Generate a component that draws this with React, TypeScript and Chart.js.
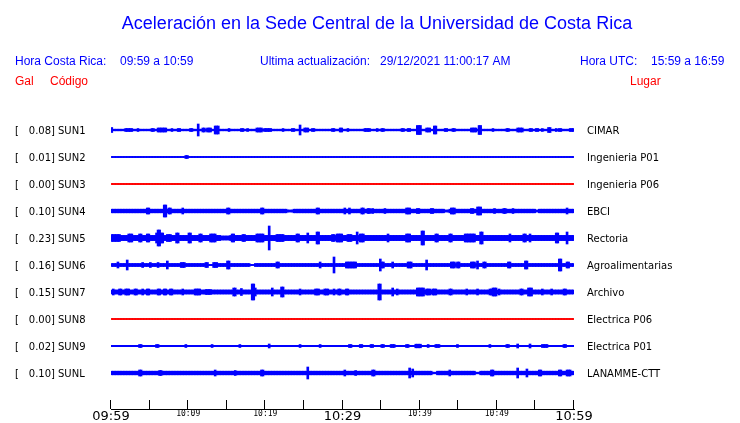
import { useEffect, useRef } from 'react';
import { Chart, registerables } from 'chart.js';

Chart.register(...registerables);

// ---------- text ----------
const TITLE = 'Aceleración en la Sede Central de la Universidad de Costa Rica';
const LOCAL_LABEL = 'Hora Costa Rica:';
const LOCAL_RANGE = '09:59 a 10:59';
const UPDATED_LABEL = 'Ultima actualización:';
const UPDATED_VALUE = '29/12/2021 11:00:17 AM';
const UTC_LABEL = 'Hora UTC:';
const UTC_RANGE = '15:59 a 16:59';
const COL_GAL = 'Gal';
const COL_CODE = 'Código';
const COL_PLACE = 'Lugar';

// ---------- stations ----------
const stationCodes = ['SUN1', 'SUN2', 'SUN3', 'SUN4', 'SUN5', 'SUN6', 'SUN7', 'SUN8', 'SUN9', 'SUNL'];
const stationGal = ['0.08', '0.01', '0.00', '0.10', '0.23', '0.16', '0.15', '0.00', '0.02', '0.10'];
const stationPlaces = ['CIMAR', 'Ingenieria P01', 'Ingenieria P06', 'EBCI', 'Rectoria', 'Agroalimentarias', 'Archivo', 'Electrica P06', 'Electrica P01', 'LANAMME-CTT'];

// ---------- time axis (minutes after 09:59) ----------
const tickMinutes = [0, 5, 10, 15, 20, 25, 30, 35, 40, 45, 50, 55, 60];
const tickLabels = ['09:59', '', '10:09', '', '10:19', '', '10:29', '', '10:39', '', '10:49', '', '10:59'];
const majorLabels = ['09:59', '10:29', '10:59'];

// ---------- trace envelopes: background half-amplitude + bursts [minute, half-amplitude, duration] ----------
const baseAmplitude = [0.8, 0.6, 0.6, 1.8, 2.6, 1.5, 2.0, 0.6, 0.7, 1.8];

const sun1Events = [[0.1, 2.5], [2.3, 1.5, 0.8], [3.5, 1.5], [5.4, 1.5], [6.6, 2, 1.0], [7.9, 1.5], [8.8, 1.5], [10.4, 1.5, 0.4], [11.3, 6], [12.0, 2, 0.5], [12.7, 2, 0.6], [13.7, 4, 0.6], [15.3, 1.5], [17.0, 1.5], [17.7, 1.5], [19.2, 2, 0.6], [20.3, 1.5, 0.8], [22.3, 1.5], [23.6, 1.5], [24.5, 5], [25.3, 2, 0.4], [26.2, 1.5], [28.8, 1.5], [29.8, 2, 0.5], [30.7, 1.5], [33.2, 1.5, 0.6], [34.5, 1.5], [35.2, 1.5], [37.8, 1.5], [38.6, 1.5, 0.4], [39.9, 4.5, 0.6], [41.1, 2, 0.6], [42.0, 4], [43.4, 1.5], [44.4, 1.5, 0.5], [47.0, 2, 0.6], [47.8, 4.5], [49.5, 1.5], [51.4, 1.5], [53.0, 2, 0.8], [54.4, 1.5], [55.2, 1.5], [55.9, 1.5], [56.8, 2.5, 0.5], [57.7, 1.5], [58.2, 1.5], [59.5, 1.5], [59.8, 1.5]];
const sun2Events = [[9.8, 1.5]];
const sun3Events: number[][] = [];
const sun4Events = [[4.8, 3], [7.0, 6], [7.6, 3], [9.3, 3], [15.2, 3], [19.6, 3], [23.2, 1, 0.6], [26.8, 3], [30.3, 3], [30.9, 3], [32.6, 3], [33.4, 2.5], [33.9, 2.5], [35.5, 2.5], [38.5, 3, 0.5], [39.8, 2.5], [41.6, 2.5], [43.5, 1, 0.4], [44.3, 3, 0.6], [46.8, 2.5, 0.3], [47.5, 4], [47.8, 4], [49.7, 2.5], [51.0, 2.5], [52.1, 2.5], [55.2, 1, 0.4], [59.1, 3]];
const sun5Events = [[0.2, 3.5, 0.6], [0.9, 3.5, 0.5], [2.5, 4, 0.6], [3.8, 4, 0.4], [4.8, 4, 0.4], [6.0, 5, 0.4], [6.2, 8, 0.3], [6.6, 5, 0.4], [7.5, 3.5, 0.6], [8.6, 5, 0.3], [10.2, 5, 0.4], [11.6, 4, 0.4], [13.2, 4, 0.8], [14.8, 2, 1.2], [15.8, 4], [17.2, 3.5, 0.4], [19.3, 4, 0.8], [20.5, 12], [21.9, 3.5, 0.8], [24.2, 4], [25.5, 5], [26.8, 6, 0.3], [28.8, 3.5, 0.4], [29.6, 4, 0.6], [30.9, 3.5, 0.6], [31.9, 6, 0.3], [32.5, 4, 0.4], [35.9, 4], [38.5, 4, 0.4], [40.4, 7], [42.2, 4, 0.4], [44.0, 4, 0.4], [46.5, 4, 1.2], [48.0, 6, 0.3], [51.7, 4], [53.6, 4], [54.3, 4], [57.8, 5], [59.1, 6, 0.3]];
const sun6Events = [[0.9, 3], [2.1, 5], [4.1, 2.5], [5.1, 2.5], [6.1, 2.5], [7.3, 4], [9.3, 2.5, 0.6], [12.4, 2.5], [12.9, 0.6, 0.4], [13.5, 2.5, 0.4], [15.2, 4], [18.3, 0.6, 0.7], [21.6, 3], [27.1, 3], [28.9, 8], [30.8, 3, 0.6], [31.5, 3, 0.4], [34.9, 6], [35.2, 3], [36.5, 3], [38.7, 3, 0.5], [40.9, 5], [44.3, 3, 0.4], [45.0, 3], [46.9, 3, 0.5], [47.5, 4], [48.4, 3, 0.5], [51.6, 3], [53.8, 4, 0.3], [58.2, 6], [59.2, 3, 0.4]];
const sun7Events = [[0.3, 3], [1.2, 3, 0.4], [2.1, 3, 0.5], [3.2, 3], [4.1, 3], [4.8, 3], [6.2, 3, 0.5], [7.0, 3], [7.8, 3, 0.4], [9.3, 3], [11.2, 3, 0.6], [12.6, 2.5, 0.6], [16.0, 4, 0.4], [16.9, 3.5], [18.4, 8], [18.6, 4, 0.3], [20.9, 4], [22.2, 5], [24.5, 3], [26.7, 3, 0.4], [27.9, 3, 0.4], [28.9, 3], [29.6, 3, 0.4], [30.6, 3, 0.4], [34.8, 8], [36.5, 4], [37.1, 3], [39.9, 4, 0.4], [40.4, 4, 0.4], [41.1, 3, 0.4], [41.9, 3, 0.4], [44.0, 3, 0.4], [46.1, 3], [47.5, 3, 0.3], [49.2, 3, 0.4], [49.7, 4, 0.4], [50.3, 3], [53.2, 3], [54.3, 4, 0.4], [55.9, 3], [57.1, 3], [58.8, 3, 0.5]];
const sun8Events: number[][] = [];
const sun9Events = [[3.8, 1.5], [6.0, 1.5], [9.7, 1.5], [13.1, 1.5], [16.7, 1.5], [20.5, 2], [24.5, 1.5], [27.1, 1.5], [31.0, 1.5], [32.4, 1.5], [33.8, 1.5], [35.2, 1.5], [36.5, 1.5, 0.5], [38.4, 1.5, 0.4], [39.8, 1.8, 0.6], [41.1, 1.5], [42.3, 1.5, 0.6], [44.9, 1.5], [49.1, 1.5], [51.4, 1.5], [52.7, 2], [54.3, 2], [56.2, 1.5, 0.6], [58.8, 1.5]];
const sunLEvents = [[3.8, 3], [6.4, 2.5], [13.5, 3], [16.1, 2.5], [19.6, 3], [25.5, 6], [30.3, 3], [31.7, 2.5], [34.0, 3], [38.7, 5, 0.3], [39.1, 4], [41.9, 0.8, 0.4], [43.9, 3], [47.5, 0.8, 0.4], [49.4, 3], [52.7, 5], [53.9, 4], [55.6, 3], [58.2, 3, 0.4], [59.3, 3, 0.6]];

const stationEvents = [sun1Events, sun2Events, sun3Events, sun4Events, sun5Events, sun6Events, sun7Events, sun8Events, sun9Events, sunLEvents];

// ---------- layout constants (not data) ----------
const ROW = 27;
const BIN = 0.2;
const WINDOW = 60;
const BLUE = '#0000ff';
const RED = '#ff0000';

function envelope(base: number, events: number[][]) {
  const pts: { t: number; amp: number }[] = [];
  const n = Math.round(WINDOW / BIN);
  for (let k = 0; k < n; k++) {
    const t = (k + 0.5) * BIN;
    let amp = -1;
    for (const ev of events) {
      const m = ev[0];
      const a = ev[1];
      const w = ev.length > 2 ? ev[2] : 0.2;
      if (Math.abs(t - m) <= Math.max(w / 2, BIN / 2) + 1e-9) amp = Math.max(amp, a);
    }
    pts.push({ t, amp: amp < 0 ? base : amp });
  }
  return pts;
}

const textPlugin = {
  id: 'seismoText',
  afterDraw(chart: any) {
    const { ctx, chartArea, scales } = chart;
    ctx.save();
    // inward tick marks
    ctx.strokeStyle = '#000';
    ctx.lineWidth = 1;
    ctx.beginPath();
    for (const v of tickMinutes) {
      const x = Math.round(scales.x.getPixelForValue(v)) - 0.5;
      ctx.moveTo(x, chartArea.bottom - 9);
      ctx.lineTo(x, chartArea.bottom);
    }
    ctx.stroke();

    ctx.textBaseline = 'alphabetic';
    // title
    ctx.fillStyle = BLUE;
    ctx.font = '18px "Liberation Sans", Arial, sans-serif';
    ctx.textAlign = 'center';
    ctx.fillText(TITLE, 377, 29);

    ctx.textAlign = 'left';
    ctx.font = '12px "Liberation Sans", Arial, sans-serif';
    ctx.fillText(LOCAL_LABEL, 15, 65);
    ctx.fillText(LOCAL_RANGE, 120, 65);
    ctx.fillText(UPDATED_LABEL, 260, 65);
    ctx.fillText(UPDATED_VALUE, 380, 65);
    ctx.fillText(UTC_LABEL, 580, 65);
    ctx.fillText(UTC_RANGE, 651, 65);

    ctx.fillStyle = RED;
    ctx.fillText(COL_GAL, 15, 85);
    ctx.fillText(COL_CODE, 50, 85);
    ctx.fillText(COL_PLACE, 630, 85);

    // station labels
    ctx.fillStyle = '#000';
    ctx.font = '10px "DejaVu Sans", sans-serif';
    stationCodes.forEach((code, i) => {
      const y = scales.y.getPixelForValue(i * ROW) + 4;
      ctx.textAlign = 'left';
      ctx.fillText('[', 15, y);
      ctx.textAlign = 'right';
      ctx.fillText(stationGal[i] + ']', 55, y);
      ctx.textAlign = 'left';
      ctx.fillText(code, 58, y);
      ctx.fillText(stationPlaces[i], 587, y);
    });
    ctx.restore();
  },
};

export default function App() {
  const ref = useRef<HTMLCanvasElement | null>(null);
  useEffect(() => {
    if (!ref.current) return;
    const datasets = stationCodes.map((code, i) => {
      const env = envelope(baseAmplitude[i], stationEvents[i]);
      const color = parseFloat(stationGal[i]) === 0 ? RED : BLUE;
      return {
        label: code,
        data: env.map((p) => ({ x: p.t, y: [i * ROW - p.amp, i * ROW + p.amp] })),
        backgroundColor: color,
        borderWidth: 0,
        barThickness: 2,
        grouped: false,
      };
    });
    const chart = new Chart(ref.current, {
      type: 'bar',
      data: { datasets: datasets as any },
      options: {
        animation: false,
        responsive: false,
        events: [],
        layout: { padding: { left: 111, right: 166, top: 103, bottom: 0 } },
        plugins: { legend: { display: false }, tooltip: { enabled: false }, title: { display: false } },
        scales: {
          x: {
            type: 'linear',
            min: 0,
            max: WINDOW,
            offset: false,
            grid: { display: false, drawTicks: false },
            border: { display: true, color: '#000', width: 1 },
            afterFit: (scale: any) => { scale.height = 14; },
            afterBuildTicks: (scale: any) => { scale.ticks = tickMinutes.map((v) => ({ value: v })); },
            ticks: {
              autoSkip: false,
              maxRotation: 0,
              padding: 0,
              color: '#000',
              callback: (v: any) => tickLabels[tickMinutes.indexOf(Number(v))] ?? '',
              font: (c: any) => {
                const lbl = tickLabels[tickMinutes.indexOf(Number(c.tick?.value))] ?? '';
                return majorLabels.includes(lbl)
                  ? { family: '"DejaVu Sans"', size: 13 }
                  : { family: '"DejaVu Sans Mono"', size: 8 };
              },
            },
          },
          y: {
            type: 'linear',
            display: false,
            reverse: true,
            min: -ROW,
            max: ROW * (stationCodes.length - 1) + 36,
          },
        },
      } as any,
      plugins: [textPlugin],
    });
    return () => chart.destroy();
  }, []);
  return (
    <div style={{ position: 'absolute', left: 0, top: 0, width: 740, height: 423, background: '#fff' }}>
      <canvas ref={ref} width={740} height={423} style={{ display: 'block' }} />
    </div>
  );
}
